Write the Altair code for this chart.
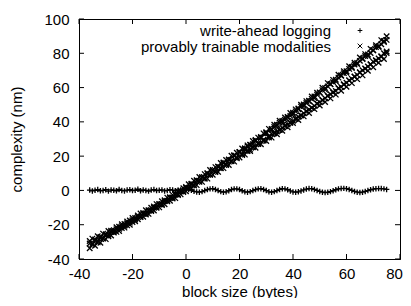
import altair as alt
import pandas as pd

# ---- data ----
block_x = list(range(-36, 76))

wal_y = [
    0.2, -0.3, 0.1, 0.5, -0.2, 0.0, 0.4, -0.4, 0.3, 0.1, -0.2, 0.6, 0.0, -0.3, 0.2, 0.4, -0.1, 0.1,
    0.7, -0.2, 0.3, 0.0, -0.4, 0.2, 0.5, -0.1, 0.1, 0.3, -0.3, 0.0, 0.4, 0.2, -0.2, 0.1, 0.3, 0.5,
    0.8, 0.6, 0.1, -0.5, -0.9, -1.0, -0.7, -0.1, 0.5, 0.9, 1.0, 0.6, -0.1, -0.7, -1.0, -0.8,
    -0.2, 0.5, 0.9, 0.9, 0.5, -0.2, -0.8, -1.0, -0.7, -0.1, 0.5, 0.9, 1.0, 0.6, -0.1, -0.8,
    -1.0, -0.7, -0.1, 0.6, 1.0, 0.9, 0.4, -0.3, -0.9, -1.0, -0.8, -0.3, 0.3, 0.8, 1.1, 1.0,
    0.6, 0.0, -0.6, -1.0, -1.2, -1.1, -0.7, -0.2, 0.4, 0.9, 1.1, 1.2, 1.0, 0.6, 0.0, -0.6,
    -1.0, -1.2, -1.0, -0.6, -0.1, 0.4, 0.8, 1.0, 1.1, 1.1, 0.9, 0.6,
]

ptm_upper = [
    -29.5, -28.1, -28.6, -26.7, -27.1, -25.2, -25.6, -23.7, -23.5, -23.2, -21.5, -21.2,
    -19.7, -19.6, -18.1, -17.5, -16.1, -16.1, -14.6, -13.5, -13.2, -11.6, -11.5, -10.1,
    -9.4, -8.0, -7.9, -6.3, -5.7, -4.2, -4.0, -2.6, -1.9, -0.5, -0.1, 1.3,
    2.0, 3.6, 3.9, 5.7, 6.0, 7.8, 7.7, 9.5, 10.1, 11.9, 11.9, 13.6, 13.8, 16.0, 16.3, 17.8,
    17.8, 20.2, 20.5, 22.0, 22.2, 24.5, 24.5, 26.3, 26.5, 28.8, 29.0, 30.8, 30.6, 33.3,
    33.4, 35.9, 35.4, 38.3, 38.0, 40.7, 39.9, 42.5, 42.6, 45.2, 44.5, 47.3, 47.3, 50.0,
    49.2, 52.1, 52.0, 54.8, 53.9, 57.0, 56.9, 59.9, 58.8, 62.6, 61.9, 64.5, 63.7, 67.5,
    66.9, 69.5, 68.6, 72.4, 71.4, 74.5, 73.7, 77.5, 76.7, 79.5, 78.4, 82.6, 81.8, 84.7,
    83.7, 87.7, 87.2, 89.9,
]

ptm_lower = [
    -33.7, -31.6, -32.3, -30.3, -30.5, -28.1, -28.4, -26.7, -26.3, -24.6, -24.2, -23.7,
    -21.9, -21.7, -20.4, -20.0, -18.4, -18.0, -16.8, -15.5, -15.4, -14.0, -13.7, -12.0,
    -11.7, -10.2, -9.9, -8.6, -8.1, -6.4, -6.0, -4.7, -4.5, -2.7, -2.3, -1.0,
    -0.5, 1.2, 1.3, 2.9, 3.1, 5.0, 5.0, 6.8, 6.9, 9.1, 9.1, 10.7, 10.8, 12.9, 13.0, 14.8,
    14.8, 17.1, 16.8, 18.8, 19.2, 21.1, 20.9, 22.9, 22.9, 25.2, 24.9, 27.1, 26.9, 29.1,
    28.8, 31.4, 30.8, 33.3, 32.8, 35.3, 34.8, 37.7, 36.8, 39.5, 39.3, 42.0, 41.1, 43.8,
    43.2, 46.3, 45.2, 48.2, 47.4, 50.7, 49.5, 52.6, 51.6, 55.2, 53.7, 57.1, 55.9, 59.7,
    58.1, 61.7, 60.5, 64.2, 62.6, 66.3, 64.9, 68.9, 67.1, 70.9, 69.8, 73.6, 71.8, 75.7,
    74.5, 77.9, 76.7, 80.2,
]

ptm_mid = [
    -31.0, -31.2, -29.3, -29.5, -27.6, -27.8, -26.0, -25.9, -24.3, -24.2, -22.6, -22.4,
    -20.8, -20.6, -19.1, -18.8, -17.3, -17.0, -15.5, -15.2, -13.7, -13.4, -11.9, -11.6,
    -10.1, -9.7, -8.2, -7.9, -6.3, -6.0, -4.4, -4.1, -2.5, -2.2, -0.6, -0.3,
    1.4, 1.6, 3.5, 3.4, 5.6, 5.4, 7.6, 7.3, 9.7, 9.3, 11.8, 11.2, 13.8, 13.2, 15.9, 15.3,
    18.0, 17.2, 20.2, 19.3, 22.3, 21.3, 24.5, 23.3, 26.7, 25.5, 28.9, 27.6, 31.2, 29.6,
    33.5, 31.6, 35.9, 33.5, 38.3, 35.4, 40.6, 37.5, 42.9, 39.6, 45.3, 41.7, 47.8, 43.8,
    50.1, 46.0, 52.3, 48.2, 54.8, 50.6, 57.2, 52.8, 59.7, 55.1, 62.0, 57.4, 64.6, 59.6,
    67.1, 61.9, 69.5, 64.2, 72.0, 66.5, 74.4, 68.8, 77.0, 71.2, 79.3, 73.5, 81.8, 76.0,
    84.1, 78.3, 86.5, 81.0,
]

extra_x = list(range(20, 76))
ptm_extra = [
    22.4, 20.6, 23.7, 25.6, 23.8, 27.0, 29.4, 27.2, 30.9, 29.2, 34.0, 30.9, 33.2, 37.0,
    34.4, 39.5, 36.6, 41.2, 38.5, 43.5, 40.6, 46.1, 43.0, 48.9, 45.0, 51.0, 47.2, 53.4,
    49.3, 55.9, 51.4, 58.5, 53.8, 60.7, 56.1, 63.2, 58.0, 65.8, 60.3, 68.4, 62.8, 70.9,
    65.1, 73.5, 67.4, 75.6, 70.1, 78.4, 72.3, 80.2, 75.1, 83.6, 77.0, 85.3, 80.0, 87.8,
]

x_ticks = [-40, -20, 0, 20, 40, 60, 80]
y_ticks = [-40, -20, 0, 20, 40, 60, 80, 100]
series_names = ["write-ahead logging", "provably trainable modalities"]

# ---- styling ----
FONT = "Liberation Sans"
PLUS = "M-1,0L1,0M0,-1L0,1"
CROSS = "M-1,-1L1,1M-1,1L1,-1"
W, H = 321, 240
TICK = 5
LABEL_EXPR = "datum.value < 0 ? '-' + abs(datum.value) : '' + datum.value"

df_wal = pd.DataFrame({"x": block_x, "y": wal_y})
df_ptm = pd.DataFrame({"x": block_x * 3 + extra_x,
                       "y": ptm_upper + ptm_lower + ptm_mid + ptm_extra})
df_xt = pd.DataFrame({"x": x_ticks})
df_yt = pd.DataFrame({"y": y_ticks})

xs = alt.Scale(domain=[-40, 80], nice=False, zero=False)
ys = alt.Scale(domain=[-40, 100], nice=False, zero=False)

x_axis = alt.Axis(values=x_ticks, title="block size (bytes)", grid=False, ticks=False,
                  tickSize=0, labelPadding=7, labelFlush=False,
                  titleBaseline="alphabetic", titleY=37,
                  labelExpr=LABEL_EXPR,
                  labelOffset={"condition": {"test": "datum.value == 80", "value": -6},
                               "value": 0})
y_axis = alt.Axis(values=y_ticks, title="complexity (nm)", grid=False, ticks=False,
                  tickSize=0, labelPadding=10, titlePadding=19, labelFlush=False,
                  labelExpr=LABEL_EXPR)

X = alt.X("x:Q", scale=xs, axis=x_axis)
Y = alt.Y("y:Q", scale=ys, axis=y_axis)

pt_style = dict(filled=False, color="black", strokeWidth=1.3, size=30, opacity=1)
leg_style = dict(filled=False, color="black", strokeWidth=1, size=22, opacity=1)

wal = alt.Chart(df_wal).mark_point(shape=PLUS, **pt_style).encode(x=X, y=Y)
ptm = alt.Chart(df_ptm).mark_point(shape=CROSS, **pt_style).encode(x=X, y=Y)

tick_style = dict(color="black", strokeWidth=1)
ytick_left = alt.Chart(df_yt).mark_rule(**tick_style).encode(
    y=Y, x=alt.value(0), x2=alt.value(TICK))
ytick_right = alt.Chart(df_yt).mark_rule(**tick_style).encode(
    y=Y, x=alt.value(W - TICK), x2=alt.value(W))
xtick_bottom = alt.Chart(df_xt).mark_rule(**tick_style).encode(
    x=X, y=alt.value(H - TICK), y2=alt.value(H))
xtick_top = alt.Chart(df_xt).mark_rule(**tick_style).encode(
    x=X, y=alt.value(0), y2=alt.value(TICK))

text_style = dict(align="right", baseline="middle", font=FONT, fontSize=15, color="black")
one = "datum.x == 0"
leg_t1 = alt.Chart(df_xt).transform_filter(one).mark_text(**text_style).encode(
    text=alt.value(series_names[0]), x=alt.value(252), y=alt.value(11.5))
leg_t2 = alt.Chart(df_xt).transform_filter(one).mark_text(**text_style).encode(
    text=alt.value(series_names[1]), x=alt.value(252), y=alt.value(27.5))
leg_s1 = alt.Chart(df_xt).transform_filter(one).mark_point(shape=PLUS, **leg_style).encode(
    x=alt.value(281), y=alt.value(11.5))
leg_s2 = alt.Chart(df_xt).transform_filter(one).mark_point(shape=CROSS, **leg_style).encode(
    x=alt.value(281), y=alt.value(27))

chart = alt.layer(
    wal, ptm, ytick_left, ytick_right, xtick_bottom, xtick_top,
    leg_t1, leg_t2, leg_s1, leg_s2,
).properties(
    width=W, height=H,
    background="white",
    autosize=alt.AutoSizeParams(type="none"),
    padding={"left": 71, "top": 11, "right": 3, "bottom": 39},
).configure_view(
    stroke="black", strokeWidth=1,
).configure_axis(
    domainColor="black", domainWidth=1,
    labelFont=FONT, labelFontSize=15, labelColor="black",
    titleFont=FONT, titleFontSize=15, titleColor="black", titleFontWeight="normal",
)

chart.save("out.html", embed_options={"renderer": "svg", "actions": False})
